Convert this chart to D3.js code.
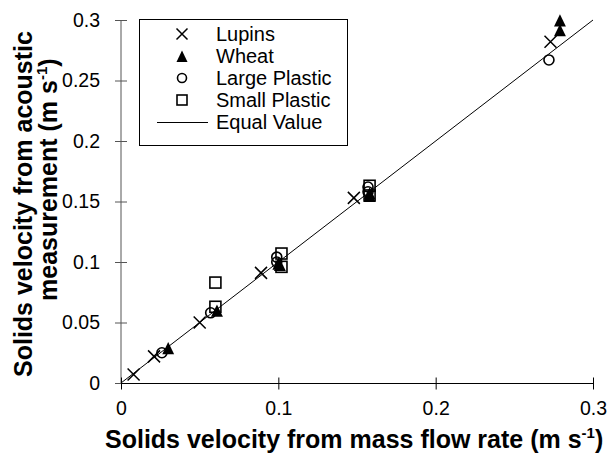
<!DOCTYPE html>
<html><head><meta charset="utf-8">
<script src="https://cdn.jsdelivr.net/npm/d3@7"></script>
<style>body{margin:0;background:#fff}svg{display:block}text{font-family:"Liberation Sans",Arial,sans-serif}</style>
</head><body><svg id="c" width="614" height="457"></svg>
<script>
const xTicks = [0, 0.1, 0.2, 0.3];
const yTicks = [0, 0.05, 0.1, 0.15, 0.2, 0.25, 0.3];
const lupins = [[0.008,0.007],[0.021,0.022],[0.050,0.050],[0.089,0.091],[0.148,0.153],[0.273,0.282]];
const wheat = [[0.030,0.028],[0.061,0.059],[0.100,0.098],[0.101,0.097],[0.158,0.156],[0.158,0.154],[0.279,0.291],[0.279,0.299]];
const largePlastic = [[0.026,0.025],[0.057,0.058],[0.099,0.104],[0.099,0.100],[0.157,0.162],[0.157,0.158],[0.272,0.267]];
const smallPlastic = [[0.060,0.083],[0.060,0.063],[0.102,0.107],[0.102,0.096],[0.158,0.163],[0.158,0.155]];
const equalLine = [[0,0],[0.3,0.3]];
const legendLabels = ["Lupins","Wheat","Large Plastic","Small Plastic","Equal Value"];

const svg = d3.select("#c");
const x = d3.scaleLinear().domain([0,0.3]).range([121,593]);
const y = d3.scaleLinear().domain([0,0.3]).range([383,20]);

// equal value line
svg.append("path").datum(equalLine)
  .attr("d", d3.line().x(d=>x(d[0])).y(d=>y(d[1])))
  .attr("stroke","#000").attr("stroke-width",1).attr("fill","none");

// axes
const fmt = d => d===0 ? "0" : String(+d.toFixed(2));
const yAxis = svg.append("g").attr("transform","translate(121,0)")
  .call(d3.axisLeft(y).tickValues(yTicks).tickFormat(fmt).tickSize(6).tickPadding(15));
yAxis.selectAll(".tick line").attr("x1",6).attr("x2",-6);
yAxis.select(".domain").attr("d",`M0,${y(0)}V${y(0.3)}`).attr("stroke","#555");
yAxis.selectAll(".tick line").attr("stroke","#555");
const xAxis = svg.append("g").attr("transform","translate(0,383.5)")
  .call(d3.axisBottom(x).tickValues(xTicks).tickFormat(fmt).tickSize(6).tickPadding(12));
xAxis.selectAll(".tick line").attr("y1",-6).attr("y2",6).attr("stroke","#000");
xAxis.select(".domain").attr("d",`M${x(0)},0H${x(0.3)}`).attr("stroke","#000");
[yAxis,xAxis].forEach(g=>{
  g.selectAll("text").attr("font-size",19.5).attr("fill","#000").attr("font-family","Liberation Sans, Arial, sans-serif");
});

// symbols
function drawCross(g, cx, cy, s){
  g.append("path").attr("d",`M${cx-s},${cy-s}L${cx+s},${cy+s}M${cx-s},${cy+s}L${cx+s},${cy-s}`)
   .attr("stroke","#000").attr("stroke-width",1.5).attr("fill","none");
}
function drawTri(g, cx, cy, s){
  g.append("path").attr("d",`M${cx},${cy-s}L${cx+s*0.85},${cy+s*0.75}L${cx-s*0.85},${cy+s*0.75}Z`).attr("fill","#000");
}
function drawCircle(g, cx, cy, r){
  g.append("circle").attr("cx",cx).attr("cy",cy).attr("r",r).attr("fill","none").attr("stroke","#000").attr("stroke-width",1.6);
}
function drawSquare(g, cx, cy, s){
  g.append("rect").attr("x",cx-s).attr("y",cy-s).attr("width",2*s).attr("height",2*s).attr("fill","none").attr("stroke","#000").attr("stroke-width",1.6);
}
const pts = svg.append("g");
smallPlastic.forEach(d=>drawSquare(pts,x(d[0]),y(d[1]),5.5));
largePlastic.forEach(d=>drawCircle(pts,x(d[0]),y(d[1]),5));
wheat.forEach(d=>drawTri(pts,x(d[0]),y(d[1]),7));
lupins.forEach(d=>drawCross(pts,x(d[0]),y(d[1]),6));

// legend
const lg = svg.append("g");
lg.append("rect").attr("x",139.5).attr("y",19.5).attr("width",208).attr("height",126).attr("fill","#fff").attr("stroke","#000");
const rowY = [34,56,78,100,122];
const draws = [
  (cx,cy)=>drawCross(lg,cx,cy,5.5),
  (cx,cy)=>drawTri(lg,cx,cy+1,6.5),
  (cx,cy)=>drawCircle(lg,cx,cy,4.5),
  (cx,cy)=>drawSquare(lg,cx,cy,5),
  (cx,cy)=>lg.append("line").attr("x1",157).attr("x2",208).attr("y1",cy+0.5).attr("y2",cy+0.5).attr("stroke","#000")
];
legendLabels.forEach((t,i)=>{
  draws[i](182, rowY[i]);
  lg.append("text").attr("x",216).attr("y",rowY[i]).attr("dy","0.36em").attr("font-size",20).text(t);
});

// axis titles
const xt = svg.append("text").attr("x",105).attr("y",448).attr("text-anchor","start")
  .attr("font-size",25).attr("font-weight","bold");
xt.append("tspan").text("Solids velocity from mass flow rate (m s");
xt.append("tspan").attr("dy",-10).attr("font-size",15).text("-1");
xt.append("tspan").attr("dy",10).text(")");

const yt = svg.append("g").attr("transform","translate(32,0) rotate(-90)");
yt.append("text").attr("x",-377).attr("y",0).attr("text-anchor","start").attr("font-size",25).attr("font-weight","bold")
  .text("Solids velocity from acoustic");
const yt2 = yt.append("text").attr("x",-301).attr("y",25).attr("text-anchor","start").attr("font-size",25).attr("font-weight","bold");
yt2.append("tspan").text("measurement (m s");
yt2.append("tspan").attr("dy",-10).attr("font-size",15).text("-1");
yt2.append("tspan").attr("dy",10).text(")");
</script></body></html>
